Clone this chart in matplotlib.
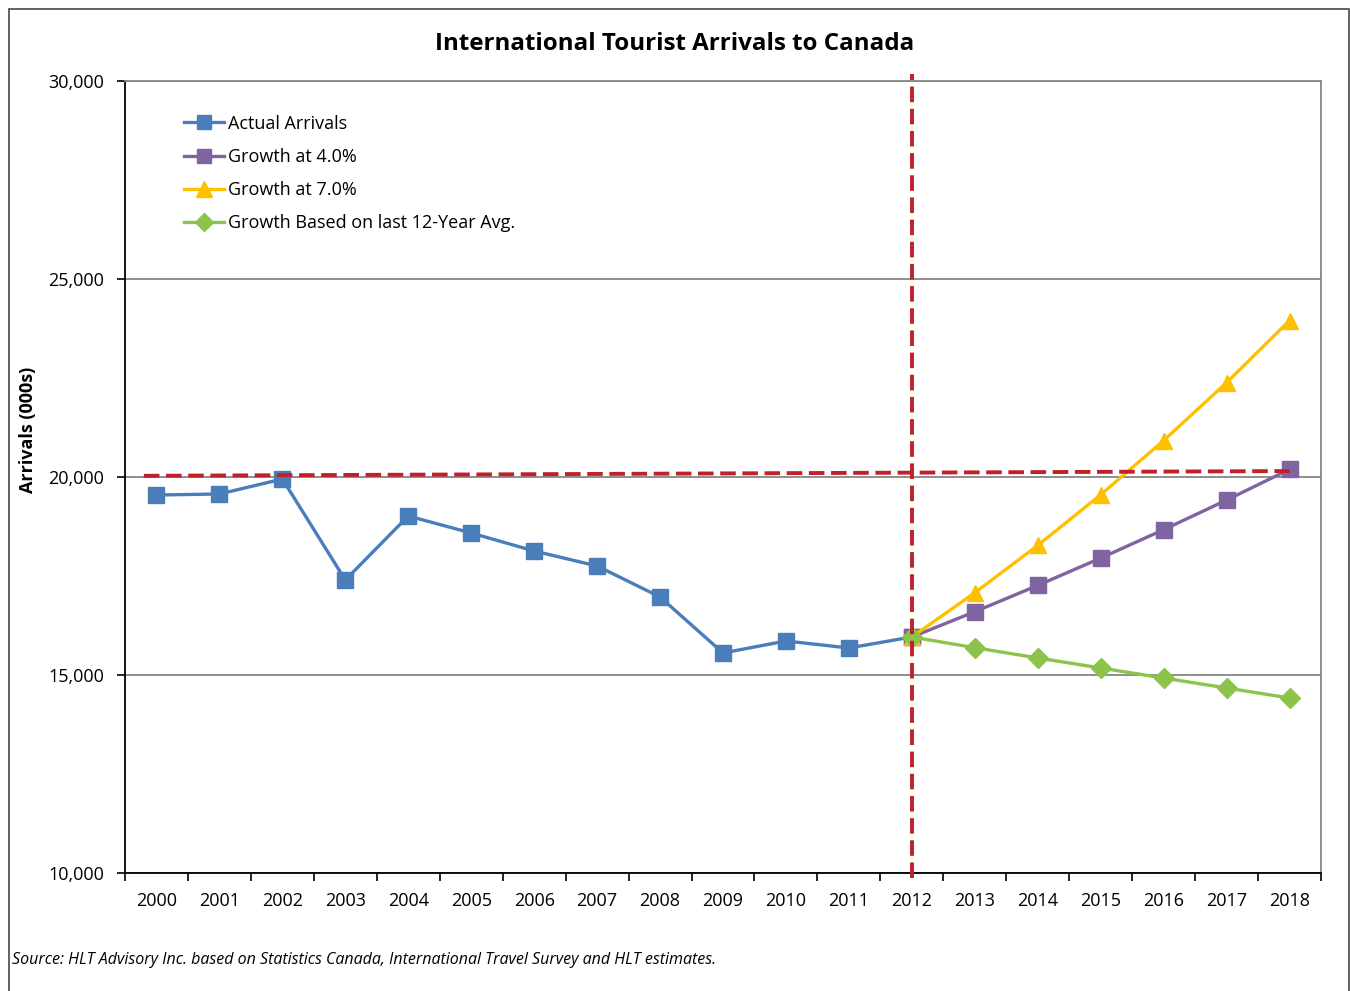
import matplotlib.pyplot as plt
from matplotlib.patches import Rectangle
from matplotlib.ticker import FuncFormatter, FixedLocator
import numpy as np

years = [str(y) for y in range(2000, 2019)]

# arrivals in thousands
actual = [19545, 19571, 19949, 17399, 19015, 18586, 18131, 17753, 16970,
          15556, 15859, 15682, 15960]
growth_4 = [15960, 16598, 17262, 17952, 18670, 19417, 20194]
growth_7 = [15960, 17077, 18273, 19552, 20920, 22384, 23951]
growth_avg = [15960, 15690, 15430, 15177, 14924, 14672, 14419]

# reference lines
ref_level = [20030, 20150]
ref_span = ["2000", "2018"]
ref_year = "2012"

plt.rcParams['font.family'] = ['Open Sans', 'DejaVu Sans']

fig = plt.figure(figsize=(13.5, 9.91), dpi=100)
ax = fig.add_axes([125 / 1350, 1 - 873 / 991, 1196 / 1350, 792 / 991])

x_all = np.arange(len(years))
x_act = x_all[:len(actual)]
x_proj = x_all[len(actual) - 1:]

blue = '#4a7ebb'
purple = '#8064a2'
yellow = '#ffc000'
green = '#8cc34b'
red = '#c0202a'

ax.plot(x_act, actual, color=blue, lw=2.4, marker='s', ms=11,
        label='Actual Arrivals', zorder=3)
ax.plot(x_proj, growth_4, color=purple, lw=2.4, marker='s', ms=11,
        label='Growth at 4.0%', zorder=3)
ax.plot(x_proj, growth_7, color=yellow, lw=2.4, marker='^', ms=12,
        label='Growth at 7.0%', zorder=3)
ax.plot(x_proj, growth_avg, color=green, lw=2.4, marker='D', ms=10,
        label='Growth Based on last 12-Year Avg.', zorder=3)

# red dashed markers
xs = [years.index(ref_span[0]) - 0.2, years.index(ref_span[1])]
ax.plot(xs, ref_level, color=red, lw=2.8, dashes=(4, 1.7), zorder=4)
ax.axvline(years.index(ref_year), ymin=-0.006, ymax=1.009, color=red,
           lw=2.8, dashes=(4, 1.7), zorder=4, clip_on=False)

ax.set_xlim(-0.5, len(years) - 0.5)
ax.set_ylim(10000, 30000)
ax.set_yticks([10000, 15000, 20000, 25000, 30000])
ax.yaxis.set_major_formatter(FuncFormatter(lambda v, p: f'{int(v):,}'))
ax.yaxis.grid(True, color='#868686', lw=1.3)
ax.set_axisbelow(True)

ax.set_xticks(x_all)
ax.set_xticklabels(years)
ax.xaxis.set_minor_locator(FixedLocator(np.arange(-0.5, len(years), 1.0)))
ax.tick_params(axis='x', which='major', length=0, pad=13.5, labelsize=13)
ax.tick_params(axis='x', which='minor', length=6, width=1.2, direction='out')
ax.tick_params(axis='y', length=6, width=1.2, pad=9, labelsize=13)

for side in ['top', 'right']:
    ax.spines[side].set_color('#868686')
    ax.spines[side].set_linewidth(1.3)
for side in ['left', 'bottom']:
    ax.spines[side].set_color('#000000')
    ax.spines[side].set_linewidth(1.3)

fig.text(28 / 1350, 1 - 430 / 991, 'Arrivals (000s)', rotation=90,
         ha='center', va='center', fontsize=13, fontweight='bold')

ax.legend(loc='upper left', bbox_to_anchor=(0.036, 0.978), frameon=False,
          fontsize=13, handlelength=2.2, handletextpad=0.2, labelspacing=0.84,
          markerscale=0.95)

fig.text(0.5, 1 - 44 / 991, 'International Tourist Arrivals to Canada',
         ha='center', va='center', fontsize=17.4, fontweight='bold')
fig.text(12 / 1350, 1 - 960 / 991,
         'Source: HLT Advisory Inc. based on Statistics Canada, International Travel Survey and HLT estimates.',
         ha='left', va='center', fontsize=11.5, style='italic')

fig.patches.append(Rectangle((8.5 / 1350, -0.02), 1340 / 1350, 1 + 0.02 - 8.5 / 991,
                             transform=fig.transFigure, fill=False,
                             edgecolor='#555555', lw=1.3))

fig.savefig('out.png', dpi=100)
